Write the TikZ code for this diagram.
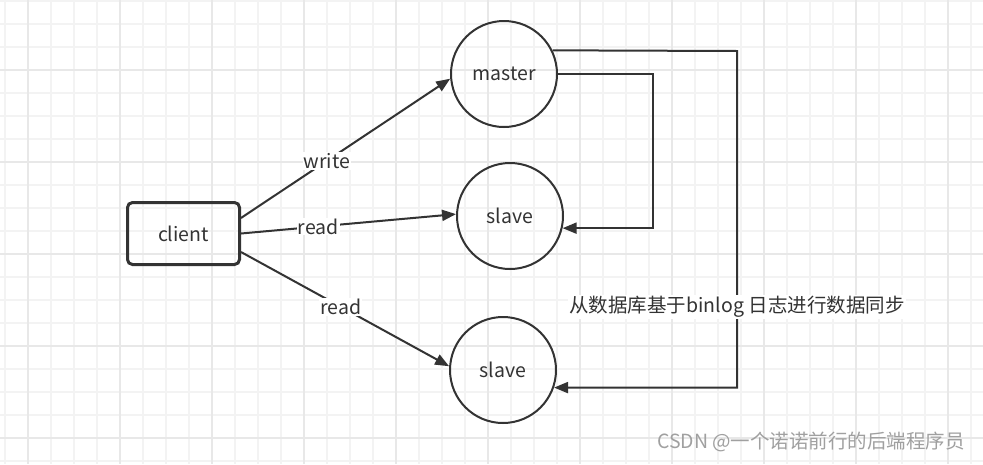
\documentclass[tikz,border=0pt]{standalone}
\usepackage{fontspec}
\setmainfont{Noto Sans CJK SC}
\usetikzlibrary{arrows.meta}
\definecolor{inkc}{HTML}{333333}
\definecolor{gridlo}{HTML}{F3F3F3}
\definecolor{gridhi}{HTML}{E8E8E8}
\definecolor{wmgray}{HTML}{A0A0A0}
\newcommand\labfont{\fontsize{19.5}{21}\selectfont}
\newcommand\wmfont{\fontsize{19.5}{21}\selectfont}
\begin{document}
\begin{tikzpicture}[x=1pt,y=-1pt,
  db/.style={circle, draw=inkc, line width=2pt, minimum size=106pt, inner sep=0pt, text=inkc, font=\labfont},
  box/.style={rectangle, rounded corners=5pt, draw=inkc, line width=3pt, minimum width=112pt, minimum height=62pt, text=inkc, font=\labfont},
  arr/.style={draw=inkc, line width=2pt, -{Triangle[length=14pt,width=11pt]}},
  lbl/.style={fill=white, inner sep=1pt, text=inkc, font=\labfont}]
\useasboundingbox (0,0) rectangle (983,464);
\fill[white] (0,0) rectangle (983,464);
% grid
\foreach \gx in {5,28,...,983} \draw[gridlo, line width=1.2pt] (\gx,0) -- (\gx,464);
\foreach \gy in {1,24,...,464} \draw[gridlo, line width=1.2pt] (0,\gy) -- (983,\gy);
\foreach \gx in {28,120,...,983} \draw[gridhi, line width=1.4pt] (\gx,0) -- (\gx,464);
\foreach \gy in {70,162,...,464} \draw[gridhi, line width=1.4pt] (0,\gy) -- (983,\gy);
% nodes
\node[box] (client) at (183.5,233.5) {client};
\node[db] (master) at (504,74) {master};
\node[db] (slaveA) at (510,216) {slave};
\node[db] (slaveB) at (503,370) {slave};
% client connectors
\draw[arr] ([yshift=15.5pt]client.east) -- node[lbl, pos=0.41]{write} (master.185);
\draw[arr] (client.east) -- node[lbl, pos=0.36]{read} (slaveA.178);
\draw[arr] ([yshift=-18.5pt]client.east) -- node[lbl, pos=0.48]{read} (slaveB.176);
% sync connectors
\coordinate (bendA) at (653,74);
\coordinate (bendB) at (737,51);
\draw[arr] (master.east) -- (bendA) |- (slaveA.-13);
\draw[arr] (master.26) -- (bendB) |- (slaveB.-19);
\node[lbl] (sync) at (737,307) {从数据库基于binlog 日志进行数据同步};
\node[text=wmgray, font=\wmfont] (mark) at (811,442) {CSDN @一个诺诺前行的后端程序员};
\end{tikzpicture}
\end{document}
